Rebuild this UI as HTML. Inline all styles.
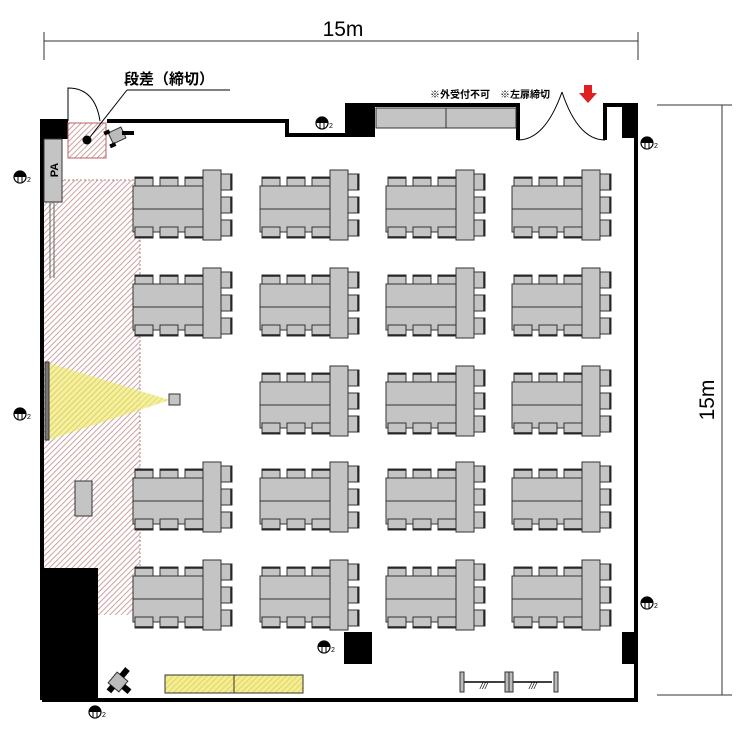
<!DOCTYPE html>
<html><head><meta charset="utf-8"><style>
html,body{margin:0;padding:0;background:#fff;}
svg{display:block;}
text{font-family:"Liberation Sans","Noto Sans CJK JP",sans-serif;}
</style></head><body>
<svg width="750" height="750" viewBox="0 0 750 750" xmlns="http://www.w3.org/2000/svg">
<defs>
<pattern id="hatch" width="4" height="4" patternUnits="userSpaceOnUse" patternTransform="rotate(45)">
<rect width="4" height="4" fill="#fff"/><line x1="0" y1="0" x2="0" y2="4" stroke="#c08a8a" stroke-width="1.6"/></pattern>
<pattern id="yh" width="4" height="4" patternUnits="userSpaceOnUse" patternTransform="rotate(45)">
<rect width="4" height="4" fill="#f4ee90"/><line x1="0" y1="0" x2="0" y2="4" stroke="#d8cc60" stroke-width="1.5"/></pattern>
<g id="cl" stroke="#333" stroke-width="1">
<g fill="#c4c4c4">
<rect x="2" y="7" width="18" height="11"/><rect x="27" y="7" width="18" height="11"/><rect x="52" y="7" width="18" height="11"/>
<rect x="0" y="16" width="70" height="46"/>
<line x1="0" y1="39" x2="70" y2="39"/>
<rect x="2" y="57" width="18" height="11"/><rect x="27" y="57" width="18" height="11"/><rect x="52" y="57" width="18" height="11"/>
<rect x="88" y="4" width="11" height="16"/><rect x="88" y="27" width="11" height="16"/><rect x="88" y="50" width="11" height="16"/>
<rect x="70" y="0" width="18" height="70"/>
</g>
<g stroke="#222" stroke-width="1.5">
<line x1="2" y1="8" x2="20" y2="8"/><line x1="27" y1="8" x2="45" y2="8"/><line x1="52" y1="8" x2="70" y2="8"/>
<line x1="2" y1="67" x2="20" y2="67"/><line x1="27" y1="67" x2="45" y2="67"/><line x1="52" y1="67" x2="70" y2="67"/>
<line x1="98" y1="4" x2="98" y2="20"/><line x1="98" y1="27" x2="98" y2="43"/><line x1="98" y1="50" x2="98" y2="66"/>
</g></g>
<g id="outlet">
<circle cx="0" cy="0" r="6" fill="#fff" stroke="#000" stroke-width="1.2"/>
<path d="M-6,0 A6,6 0 0 1 6,0 Z" fill="#000"/>
<line x1="-2" y1="-1" x2="-2" y2="6" stroke="#000"/><line x1="2" y1="-1" x2="2" y2="6" stroke="#000"/>
<text x="7" y="5" font-size="7">2</text>
</g>
</defs>

<line x1="44" y1="41" x2="638" y2="41" stroke="#333"/>
<line x1="44" y1="32" x2="44" y2="60" stroke="#333"/>
<line x1="638" y1="32" x2="638" y2="60" stroke="#333"/>
<text x="343" y="36" font-size="21" text-anchor="middle">15m</text>
<line x1="722" y1="105" x2="722" y2="695" stroke="#333"/>
<line x1="657" y1="105" x2="732" y2="105" stroke="#333"/>
<line x1="657" y1="695" x2="732" y2="695" stroke="#333"/>
<text transform="translate(714,400) rotate(-90)" font-size="21" text-anchor="middle">15m</text>

<rect x="44" y="180" width="96" height="435" fill="url(#hatch)"/>
<line x1="140" y1="180" x2="140" y2="615" stroke="#b08080" stroke-dasharray="2,2"/>
<line x1="44" y1="180" x2="140" y2="180" stroke="#b08080" stroke-dasharray="2,2"/>

<polygon points="48,363 170,400 48,440" fill="url(#yh)" opacity="0.9"/>
<rect x="45" y="362" width="4" height="78" fill="#777" stroke="#333"/>
<rect x="169" y="394" width="11" height="11" fill="#c4c4c4" stroke="#333"/>
<rect x="75" y="481" width="17" height="35" fill="#c4c4c4" stroke="#333"/>

<g fill="none" stroke="#000" stroke-width="4">
<polyline points="42,700 42,121 68,121"/>
<polyline points="107,121 287,121 287,135 347,135 347,105 518,105 518,140"/>
<polyline points="605,140 605,105 636,105 636,700 42,700"/>
</g>
<rect x="40" y="119" width="28" height="20" fill="#000"/>
<rect x="347" y="105" width="28" height="32" fill="#000"/>
<rect x="622" y="105" width="16" height="33" fill="#000"/>
<rect x="622" y="632" width="14" height="32" fill="#000"/>
<rect x="40" y="568" width="58" height="132" fill="#000"/>
<rect x="344" y="632" width="28" height="32" fill="#000"/>

<rect x="376" y="108" width="70" height="20" fill="#c4c4c4" stroke="#333"/>
<rect x="446" y="108" width="70" height="20" fill="#c4c4c4" stroke="#333"/>

<path d="M518,140 Q545,140 562,92" fill="none" stroke="#000"/>
<path d="M605,140 Q578,140 562,92" fill="none" stroke="#000"/>
<line x1="518" y1="122" x2="518" y2="140" stroke="#000" stroke-width="2"/>
<path d="M68,121 L68,88 Q95,88 100,121" fill="#fff" stroke="#000"/>
<rect x="68" y="123" width="38" height="35" fill="url(#hatch)" stroke="#c06060"/>
<circle cx="87" cy="140" r="4.5" fill="#000"/>
<line x1="90" y1="137" x2="127" y2="90" stroke="#000"/>
<line x1="127" y1="90" x2="230" y2="90" stroke="#000"/>
<text x="124" y="84" font-size="15" font-weight="bold">段差（締切）</text>
<g transform="translate(118,135) rotate(-25)"><rect x="-8" y="-6" width="14" height="12" fill="#bbb" stroke="#333"/><rect x="-12" y="-9" width="6" height="4" fill="#000"/><rect x="-12" y="5" width="6" height="4" fill="#000"/></g>
<rect x="122" y="131" width="12" height="4" fill="#000"/>
<g transform="translate(118,682) rotate(40)"><rect x="-7" y="-7" width="14" height="14" fill="#bbb" stroke="#333"/><rect x="-4" y="-16" width="6" height="9" fill="#000"/><rect x="7" y="-3" width="8" height="6" fill="#000"/><rect x="-4" y="7" width="6" height="6" fill="#000"/></g>

<rect x="44" y="139" width="18" height="63" fill="#c4c4c4" stroke="#333"/>
<text transform="translate(58,170) rotate(-90)" font-size="11" font-weight="bold" text-anchor="middle">PA</text>
<line x1="50" y1="202" x2="50" y2="278" stroke="#666"/><line x1="54" y1="202" x2="54" y2="278" stroke="#666"/>

<text x="430" y="98" font-size="10" font-weight="bold">※外受付不可　※左扉締切</text>
<polygon points="584,85 592,85 592,93 597,93 588,103 579,93 584,93" fill="#e02020"/>

<use href="#cl" x="133" y="170"/><use href="#cl" x="260" y="170"/><use href="#cl" x="386" y="170"/><use href="#cl" x="512" y="170"/>
<use href="#cl" x="133" y="268"/><use href="#cl" x="260" y="268"/><use href="#cl" x="386" y="268"/><use href="#cl" x="512" y="268"/>
<use href="#cl" x="260" y="366"/><use href="#cl" x="386" y="366"/><use href="#cl" x="512" y="366"/>
<use href="#cl" x="133" y="462"/><use href="#cl" x="260" y="462"/><use href="#cl" x="386" y="462"/><use href="#cl" x="512" y="462"/>
<use href="#cl" x="133" y="560"/><use href="#cl" x="260" y="560"/><use href="#cl" x="386" y="560"/><use href="#cl" x="512" y="560"/>

<rect x="165" y="675" width="69" height="18" fill="url(#yh)" stroke="#333"/>
<rect x="234" y="675" width="69" height="18" fill="url(#yh)" stroke="#333"/>
<line x1="462" y1="682" x2="552" y2="682" stroke="#000" stroke-width="1.5"/>
<rect x="460" y="672" width="4" height="20" fill="#bbb" stroke="#333"/>
<rect x="505" y="672" width="4" height="20" fill="#bbb" stroke="#333"/>
<rect x="509" y="672" width="4" height="20" fill="#bbb" stroke="#333"/>
<rect x="554" y="672" width="4" height="20" fill="#bbb" stroke="#333"/>
<text x="480" y="689" font-size="9" font-style="italic">///</text>
<text x="529" y="689" font-size="9" font-style="italic">///</text>

<use href="#outlet" x="20" y="177"/>
<use href="#outlet" x="20" y="414"/>
<use href="#outlet" x="322" y="123"/>
<use href="#outlet" x="647" y="143"/>
<use href="#outlet" x="647" y="603"/>
<use href="#outlet" x="324" y="647"/>
<use href="#outlet" x="95" y="712"/>
</svg>
</body></html>
